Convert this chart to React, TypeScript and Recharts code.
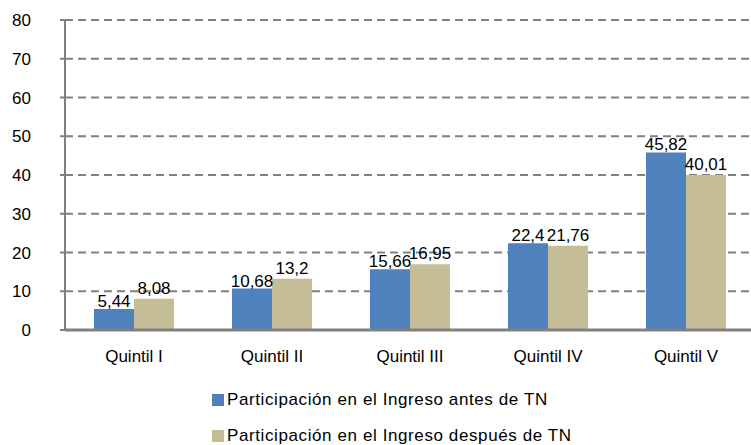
import { BarChart, Bar, XAxis, YAxis, CartesianGrid, Legend, LabelList } from "recharts"

const quintiles = ["Quintil I", "Quintil II", "Quintil III", "Quintil IV", "Quintil V"]
const antes = [5.44, 10.68, 15.66, 22.4, 45.82]
const despues = [8.08, 13.2, 16.95, 21.76, 40.01]
const yTicks = [0, 10, 20, 30, 40, 50, 60, 70, 80]

const seriesNames = ["Participación en el Ingreso antes de TN", "Participación en el Ingreso después de TN"]
const colors = ["#4f81bd", "#c4bd97"]

const chartData = quintiles.map((name, i) => ({ name, antes: antes[i], despues: despues[i], pos: i }))

const font = "'Liberation Sans', Arial, sans-serif"
const fmt = (v: any) => String(v).replace(".", ",")

function LegendBox() {
  return (
    <div style={{ height: 85, fontFamily: font, fontSize: 17, letterSpacing: 0.6, color: "#000", position: "relative" }}>
      {seriesNames.map((n, i) => (
        <div key={n} style={{ position: "absolute", left: 212, top: 30 + i * 36, display: "flex", alignItems: "center", whiteSpace: "nowrap", lineHeight: "20px" }}>
          <span style={{ display: "inline-block", width: 12, height: 12, background: colors[i], marginRight: 3 }} />
          {n}
        </div>
      ))}
    </div>
  )
}

export default function App() {
  return (
    <div style={{ position: "absolute", left: 0, top: 0, width: 751, height: 445, overflow: "hidden", background: "#fff" }}>
      <BarChart
        width={755}
        height={445}
        data={chartData}
        margin={{ top: 20, right: 0, left: 0, bottom: 0 }}
        barCategoryGap={29}
        barGap={0}
      >
        <CartesianGrid vertical={false} stroke="#808080" strokeWidth={2} strokeDasharray="8 5" />
        <XAxis
          xAxisId="bounds"
          type="number"
          dataKey="pos"
          domain={[0, 5]}
          ticks={[0, 1, 2, 3, 4, 5]}
          height={0}
          axisLine={false}
          tickLine={{ stroke: "#808080", strokeWidth: 2 }}
          tickSize={5}
          tickFormatter={() => ""}
        />
        <XAxis
          xAxisId="cat"
          dataKey="name"
          height={30}
          axisLine={{ stroke: "#808080", strokeWidth: 3 }}
          tickLine={false}
          tickMargin={14}
          tick={{ fill: "#000", fontSize: 17, fontFamily: font }}
        />
        <YAxis
          width={65}
          domain={[0, 80]}
          ticks={yTicks}
          axisLine={{ stroke: "#808080", strokeWidth: 2 }}
          tickLine={{ stroke: "#808080", strokeWidth: 2 }}
          tickSize={5}
          tickMargin={29}
          tick={{ fill: "#000", fontSize: 17, fontFamily: font }}
        />
        <Legend verticalAlign="bottom" content={<LegendBox />} />
        <Bar xAxisId="cat" dataKey="antes" name={seriesNames[0]} fill={colors[0]} isAnimationActive={false}>
          <LabelList dataKey="antes" position="top" offset={2} formatter={fmt} fill="#000" fontSize={17} fontFamily={font} />
        </Bar>
        <Bar xAxisId="cat" dataKey="despues" name={seriesNames[1]} fill={colors[1]} isAnimationActive={false}>
          <LabelList dataKey="despues" position="top" offset={5} formatter={fmt} fill="#000" fontSize={17} fontFamily={font} />
        </Bar>
      </BarChart>
    </div>
  )
}
